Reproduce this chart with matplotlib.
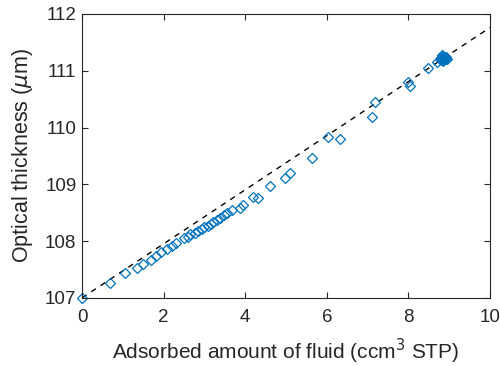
import matplotlib
matplotlib.use("Agg")
import matplotlib.pyplot as plt

# measured data (adsorbed amount, optical thickness)
adsorbed = [
    0.00, 0.69, 1.06, 1.35, 1.50, 1.68, 1.82, 1.93, 2.08, 2.20,
    2.30, 2.50, 2.60, 2.65, 2.77, 2.85, 2.93, 3.00, 3.08, 3.15,
    3.22, 3.30, 3.38, 3.47, 3.55, 3.68, 3.88, 3.95, 4.19, 4.31,
    4.61, 4.98, 5.10, 5.64, 6.03, 6.32, 7.11, 7.18, 7.99, 8.04,
    8.48, 8.70, 8.78, 8.82, 8.85, 8.88, 8.90, 8.93, 8.80, 8.86,
    8.84, 8.87, 8.91, 8.83, 8.89, 8.92, 8.81, 8.86, 8.95, 8.79,
]
thickness = [
    107.00, 107.26, 107.43, 107.53, 107.60, 107.66, 107.73, 107.80, 107.86, 107.92,
    107.97, 108.06, 108.08, 108.12, 108.15, 108.18, 108.22, 108.24, 108.27, 108.31,
    108.34, 108.37, 108.41, 108.46, 108.50, 108.54, 108.58, 108.64, 108.78, 108.76,
    108.97, 109.11, 109.20, 109.46, 109.83, 109.80, 110.19, 110.45, 110.80, 110.73,
    111.05, 111.15, 111.20, 111.24, 111.22, 111.25, 111.21, 111.23, 111.18, 111.26,
    111.19, 111.22, 111.24, 111.27, 111.20, 111.22, 111.23, 111.17, 111.21, 111.22,
]

# linear fit line endpoints
fit_x = [0.0, 10.0]
fit_y = [107.0, 111.76]

plt.rcParams["font.family"] = ["Liberation Sans", "DejaVu Sans"]

fig = plt.figure(figsize=(5.0, 3.66), dpi=100)
ax = fig.add_axes([0.164, 0.186, 0.816, 0.776])

ax.plot(fit_x, fit_y, "--", color="black", lw=1.0, dashes=(4, 4))
ax.plot(adsorbed, thickness, "D", ms=5.2, mfc="none", mec="#0072bd", mew=0.9,
        clip_on=False)

ax.set_xlim(0, 10)
ax.set_ylim(107, 112)
ax.set_xticks([0, 2, 4, 6, 8, 10])
ax.set_yticks([107, 108, 109, 110, 111, 112])

axc = "#262626"
for s in ax.spines.values():
    s.set_color(axc)
    s.set_linewidth(0.8)
ax.tick_params(direction="in", top=True, right=True, length=4, width=0.8,
               colors=axc, labelsize=13.5)
ax.tick_params(axis="x", pad=8)
ax.tick_params(axis="y", pad=4)

ax.set_xlabel("Adsorbed amount of fluid (ccm$^3$ STP)", fontsize=15, color=axc, labelpad=8)
ax.set_ylabel("Optical thickness ($\\mu$m)", fontsize=15.5, color=axc, labelpad=7)

fig.savefig("out.png", dpi=100)
